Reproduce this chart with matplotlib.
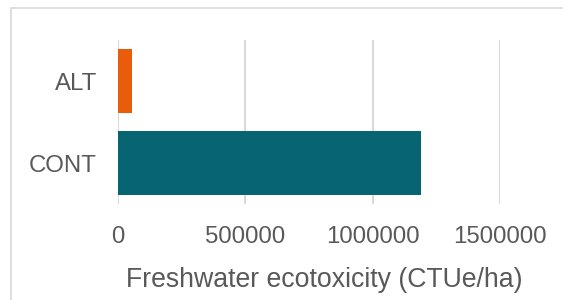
import matplotlib.pyplot as plt
from matplotlib.patches import Rectangle

# Data
categories = ['CONT', 'ALT']
values = [1188000, 56000]
bar_colors = ['#066571', '#E95C0C']
xticks = [0, 500000, 1000000, 1500000]

plt.rcParams['font.family'] = ['Liberation Sans', 'DejaVu Sans']
text_color = '#595959'

fig = plt.figure(figsize=(5.63, 3.0), dpi=100)
# light chart-area border (cropped on right and bottom)
fig.patches.append(Rectangle((10.5 / 563, -0.1), 1.2, 1 - 7.5 / 300 + 0.1,
                             transform=fig.transFigure, fill=False,
                             edgecolor='#d9d9d9', linewidth=1.2))

ax = fig.add_axes([117.8 / 563, 1 - 204 / 300, (500.2 - 117.8) / 563, (204 - 40) / 300])
ax.barh(range(len(categories)), values, height=0.77, color=bar_colors, zorder=3)

ax.set_xlim(0, 1500000)
ax.set_ylim(-0.5, 1.5)
ax.set_xticks(xticks)
ax.set_xticklabels([str(t) for t in xticks])
ax.set_yticks(range(len(categories)))
ax.set_yticklabels(categories)
ax.grid(axis='x', color='#d9d9d9', linewidth=1.5, zorder=0)
ax.set_axisbelow(True)
for s in ax.spines.values():
    s.set_visible(False)
ax.tick_params(axis='both', length=0, labelsize=17.3, colors=text_color)
ax.tick_params(axis='x', pad=16)
ax.tick_params(axis='y', pad=15)

ax.set_xlabel('Freshwater ecotoxicity (CTUe/ha)', fontsize=19.2, color=text_color)
ax.xaxis.label.set_va('center')
ax.xaxis.set_label_coords(0.539, -0.465)

fig.savefig('out.png', dpi=100)
